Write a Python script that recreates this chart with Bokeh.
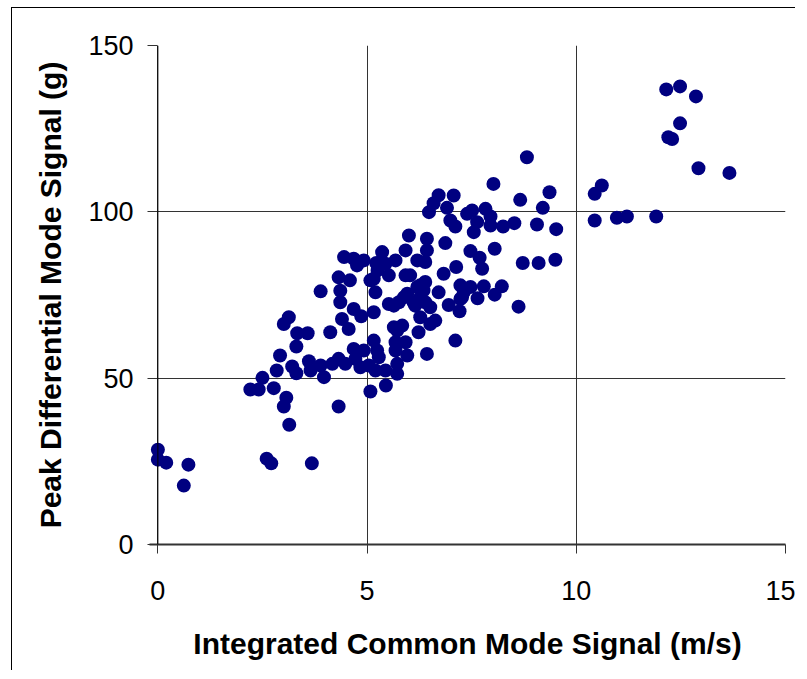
from bokeh.plotting import figure
from bokeh.models import Range1d, Span, FixedTicker, ColumnDataSource
from bokeh.embed import file_html
from bokeh.resources import INLINE

# Integrated Common Mode Signal (m/s)
common_mode = [
    0.0, 0.0, 0.2, 0.73, 0.62, 2.6, 2.71, 3.68, 3.14, 3.01, 3.07, 4.32, 2.21, 2.41, 2.77, 2.5,
    5.08, 5.45, 2.84, 2.92, 3.21, 3.31, 3.61, 3.65, 3.89, 3.97, 4.17, 4.32, 4.48, 4.68, 4.72,
    4.84, 4.92, 5.16, 5.24, 5.28, 5.2, 5.44, 5.72, 5.72, 5.68, 5.68, 5.92, 5.96, 5.72, 5.84,
    5.64, 6.43, 6.23, 6.51, 6.63, 6.27, 3.01, 3.13, 3.33, 3.31, 3.58, 4.12, 3.89, 4.4, 4.56,
    4.68, 4.86, 5.16, 5.2, 4.36, 4.36, 4.32, 4.59, 4.45, 4.68, 4.76, 4.92, 5.16, 5.25, 5.36,
    5.44, 5.52, 5.68, 5.92, 5.92, 6.0, 6.2, 6.43, 6.43, 6.39, 6.48, 6.59, 6.71, 6.27, 6.27,
    6.39, 6.51, 5.64, 5.52, 5.76, 5.88, 6.11, 5.08, 8.82, 8.02, 7.07, 6.91, 8.66, 9.36, 9.2,
    7.39, 7.51, 7.83, 7.95, 6.99, 7.11, 7.63, 7.55, 7.95, 8.25, 8.52, 9.06, 9.52, 6.87, 7.47,
    8.05, 7.69, 7.75, 8.72, 9.1, 9.5, 7.13, 6.83, 7.23, 7.47, 7.79, 8.22, 8.05, 7.64, 7.27,
    6.71, 6.95, 7.21, 8.62, 7.11, 10.44, 10.61, 10.44, 10.97, 11.21, 11.91, 12.92, 13.66,
    12.15, 12.48, 12.86, 12.48, 12.2, 12.29, 6.03, 6.2, 6.35, 5.96, 6.15, 6.39, 7.31, 7.23,
    5.04, 5.22,
]
# Peak Differential Mode Signal (g)
peak_diff = [
    28.5, 25.5, 24.6, 24.0, 17.7, 25.8, 24.4, 24.4, 36.0, 41.5, 44.1, 41.5, 46.6, 46.6, 47.0, 50.1,
    46.0, 47.8, 52.3, 56.8, 53.5, 51.5, 55.1, 52.3, 53.8, 50.3, 54.3, 55.8, 54.3, 58.8, 55.8,
    53.3, 58.3, 61.3, 58.3, 56.3, 52.3, 52.3, 51.3, 54.3, 58.3, 60.8, 60.8, 56.8, 64.3, 65.8,
    65.3, 57.3, 63.8, 66.3, 67.3, 68.3, 66.3, 68.3, 63.5, 59.5, 63.5, 63.8, 76.1, 67.8, 64.8,
    70.8, 68.6, 69.8, 75.8, 72.8, 76.3, 80.3, 79.4, 86.4, 85.9, 83.9, 85.4, 79.9, 82.4, 87.9,
    84.4, 80.9, 85.4, 88.4, 80.9, 92.9, 85.4, 91.9, 88.4, 84.9, 99.9, 102.6, 105.0, 77.9, 74.3,
    78.9, 71.3, 71.8, 72.3, 72.8, 74.3, 72.8, 79.4, 116.4, 108.4, 104.9, 101.2, 103.6, 105.9, 101.2,
    99.4, 100.4, 100.9, 98.6, 97.4, 95.6, 96.9, 93.9, 95.9, 95.6, 96.6, 96.2, 94.8, 90.6, 88.2,
    88.9, 86.2, 82.9, 84.6, 84.6, 85.6, 83.4, 81.4, 77.9, 77.4, 77.6, 77.6, 75.1, 74.0, 74.3,
    75.8, 72.0, 70.1, 71.5, 61.3, 105.4, 107.9, 97.4, 98.2, 98.6, 98.6, 113.1, 111.7,
    136.8, 137.7, 134.7, 126.6, 122.4, 121.9, 80.9, 77.4, 76.4, 75.4, 71.8, 72.8, 75.8, 73.8,
    53.8, 84.6,
]

x_ticks = [0, 5, 10, 15]
y_ticks = [0, 50, 100, 150]
x_title = "Integrated Common Mode Signal (m/s)"
y_title = "Peak Differential Mode Signal (g)"

src = ColumnDataSource(data=dict(x=common_mode, y=peak_diff))

p = figure(
    frame_width=636, frame_height=499,
    x_range=Range1d(-0.2, 15), y_range=Range1d(0, 150),
    min_border_left=137, min_border_right=10, min_border_top=37, min_border_bottom=126,
    output_backend="svg", toolbar_location=None,
    background_fill_color="white", border_fill_color="white",
    margin=(7, 0, 0, 11),
    styles={"border-left": "1px solid black", "border-top": "1px solid black"},
)
p.outline_line_color = None

FONT = "Liberation Sans"
for ax in (p.xaxis[0], p.yaxis[0]):
    ax.major_label_text_font = FONT
    ax.major_label_text_font_size = "27px"
    ax.major_label_text_color = "black"
    ax.axis_label_text_font = FONT
    ax.axis_label_text_font_size = "30px"
    ax.axis_label_text_font_style = "bold"
    ax.axis_label_text_color = "black"
    ax.minor_tick_line_color = None
    ax.major_tick_line_color = "#333333"
    ax.major_tick_line_width = 1

p.xaxis.ticker = FixedTicker(ticks=x_ticks)
p.yaxis.ticker = FixedTicker(ticks=y_ticks)
p.xaxis.axis_label = x_title
p.yaxis.axis_label = y_title

p.xaxis.major_tick_out = 9
p.xaxis.major_tick_in = 0
p.xaxis.axis_line_color = "#333333"
p.xaxis.axis_line_width = 2
p.xaxis.major_label_standoff = 27
p.xaxis.axis_label_standoff = 24

p.yaxis.major_tick_out = 2
p.yaxis.major_tick_in = 8
p.yaxis.axis_line_color = None
p.yaxis.major_label_standoff = 14
p.yaxis.axis_label_standoff = 18

p.xgrid.grid_line_color = "#333333"
p.xgrid.grid_line_width = 1
p.ygrid.grid_line_color = "#333333"
p.ygrid.grid_line_width = 1

p.add_layout(Span(location=0, dimension="height", line_color="black", line_width=1))

p.scatter("x", "y", source=src, size=14, fill_color="#000080", line_color=None)

open("out.html", "w").write(file_html(p, INLINE))
